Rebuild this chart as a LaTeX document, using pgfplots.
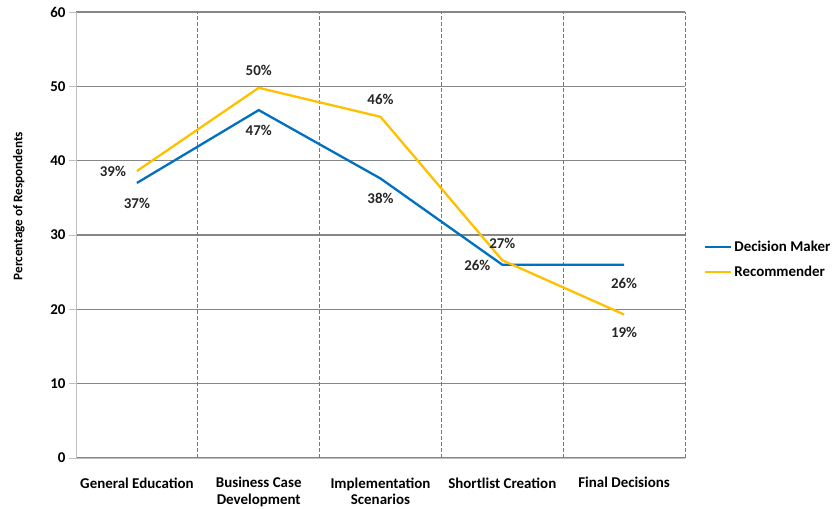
\documentclass[border=0pt]{standalone}
\usepackage{pgfplots}
\pgfplotsset{compat=1.18}
\usepackage{pgfplotstable}
\usepackage{fontspec}
\setmainfont{Carlito}

\definecolor{dmblue}{RGB}{0,112,192}
\definecolor{recyellow}{RGB}{255,192,0}
\definecolor{gridgray}{RGB}{134,134,134}
\definecolor{axisgray}{RGB}{190,190,190}
\definecolor{dashgray}{RGB}{120,120,120}

% x: category index, y: share of respondents, dx/dy: label offset (bp)
\pgfplotstableread{
x y lbl dx dy
0 37.0 37 0 -20
1 46.8 47 0 -20
2 37.6 38 0 -20
3 26.0 26 -25 -1
4 26.0 26 0 -19
}\decisionmaker

\pgfplotstableread{
x y lbl dx dy
0 38.6 39 -24 0
1 49.8 50 0 17
2 45.9 46 0 17
3 26.6 27 0 17
4 19.3 19 0 -18
}\recommender

\begin{document}
\begin{tikzpicture}
\begin{axis}[
  scale only axis,
  width=609bp, height=446bp,
  xmin=-0.5, xmax=4.5,
  ymin=0, ymax=60,
  ytick={0,10,...,60},
  xtick={0,1,2,3,4},
  xticklabels={General Education,{Business Case\\Development},{Implementation\\Scenarios},Shortlist Creation,Final Decisions},
  x tick label style={align=center, font=\bfseries\fontsize{15}{17}\selectfont, yshift=-16bp},
  y tick label style={font=\bfseries\fontsize{15}{17}\selectfont},
  /pgf/number format/assume math mode=true,
  major x tick style={draw=none},
  ytick align=outside,
  major y tick style={draw=axisgray, line width=0.8bp},
  major tick length=7bp,
  ymajorgrids,
  y grid style={gridgray, line width=1.4bp},
  extra x ticks={0.5,1.5,2.5,3.5,4.5},
  extra x tick labels={},
  extra x tick style={grid=major,
    major grid style={dashgray, dash pattern=on 4bp off 2bp, line width=0.9bp},
    major tick length=0pt},
  axis line style={axisgray, line width=0.9bp},
  separate axis lines,
  axis x line*=bottom,
  axis y line*=left,
  ylabel={Percentage of Respondents},
  ylabel style={font=\bfseries\fontsize{13.2}{15}\selectfont,
    at={(axis description cs:-0.0936,0.565)}, anchor=center, rotate=0},
  legend style={at={(1.031,0.445)}, anchor=west, draw=none, fill=none,
    inner sep=0pt, font=\bfseries\fontsize{15}{17}\selectfont, row sep=9bp,
    cells={anchor=west}},
  legend image code/.code={\draw[#1] (0bp,0bp) -- (26bp,0bp);},
  clip=false,
]
\addplot[dmblue, line width=2.3bp, no markers,
  nodes near coords={\pgfplotspointmeta\%},
  point meta=explicit symbolic,
  visualization depends on={\thisrow{dx} \as \labeldx},
  visualization depends on={\thisrow{dy} \as \labeldy},
  every node near coord/.append style={anchor=center, xshift=\labeldx bp, yshift=\labeldy bp,
    font=\bfseries\fontsize{15}{17}\selectfont, text=black!85}]
  table[x=x, y=y, meta=lbl] {\decisionmaker};
\addlegendentry{Decision Maker}
\addplot[recyellow, line width=2.3bp, no markers,
  nodes near coords={\pgfplotspointmeta\%},
  point meta=explicit symbolic,
  visualization depends on={\thisrow{dx} \as \labeldx},
  visualization depends on={\thisrow{dy} \as \labeldy},
  every node near coord/.append style={anchor=center, xshift=\labeldx bp, yshift=\labeldy bp,
    font=\bfseries\fontsize{15}{17}\selectfont, text=black!85}]
  table[x=x, y=y, meta=lbl] {\recommender};
\addlegendentry{Recommender}
\end{axis}
\pgfresetboundingbox
\path (current axis.south west) ++(-76bp,-51bp) coordinate (bbsw);
\path (current axis.north east) ++(147bp,12bp) coordinate (bbne);
\useasboundingbox (bbsw) rectangle (bbne);
\end{tikzpicture}
\end{document}
